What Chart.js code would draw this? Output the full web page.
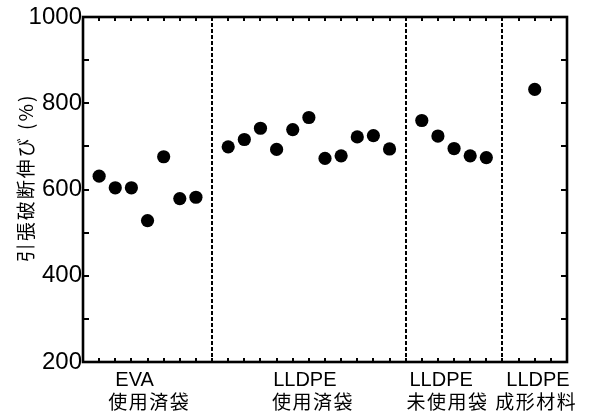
<!DOCTYPE html>
<html>
<head>
<meta charset="utf-8">
<script src="https://cdn.jsdelivr.net/npm/chart.js@4"></script>
<style>
html,body{margin:0;padding:0;background:#fff;}
#wrap{width:590px;height:413px;}
</style>
</head>
<body>
<div id="wrap"><canvas id="c" width="590" height="413"></canvas></div>
<script>
// ---- data ----
const groupNames = ['EVA', 'LLDPE', 'LLDPE', 'LLDPE'];
const groupSubNames = ['使用済袋', '使用済袋', '未使用袋', '成形材料'];
const evaUsed = [631, 604, 604, 528, 676, 579, 582];
const lldpeUsed = [699, 716, 742, 693, 739, 767, 672, 678, 722, 725, 694];
const lldpeUnused = [760, 724, 695, 678, 674];
const lldpeMaterial = [832];
const groupStart = [1, 9, 21, 28];
const separators = [8, 20, 26];
const yTicks = [200, 400, 600, 800, 1000];
const yTitle = '引張破断伸び (%)';

// ---- layout constants ----
const line1X = [3.2, 13.75, 22.2, 28.2];
const line2X = [4.1, 14.25, 22.6, 28.1];

const series = [evaUsed, lldpeUsed, lldpeUnused, lldpeMaterial];
const datasets = series.map((vals, g) => ({
  label: groupNames[g] + ' ' + groupSubNames[g],
  data: vals.map((v, i) => ({x: groupStart[g] + i, y: v})),
  backgroundColor: '#000',
  borderColor: '#000',
  borderWidth: 0,
  pointRadius: 6.6,
  pointHoverRadius: 6.6
}));

const decor = {
  id: 'decor',
  beforeDatasetsDraw(chart) {
    const ctx = chart.ctx, a = chart.chartArea;
    const xs = chart.scales.x, ys = chart.scales.y;
    ctx.save();
    // separators
    ctx.strokeStyle = '#000';
    ctx.lineWidth = 2;
    ctx.setLineDash([4, 2]);
    separators.forEach(s => {
      const px = Math.round(xs.getPixelForValue(s));
      ctx.beginPath();
      ctx.moveTo(px, a.top);
      ctx.lineTo(px, a.bottom);
      ctx.stroke();
    });
    ctx.setLineDash([]);
    // ticks top/bottom
    ctx.lineWidth = 2;
    for (let i = 1; i < 30; i++) {
      const px = Math.round(xs.getPixelForValue(i));
      ctx.beginPath();
      ctx.moveTo(px, a.bottom);
      ctx.lineTo(px, a.bottom - 4);
      ctx.moveTo(px, a.top);
      ctx.lineTo(px, a.top + 4);
      ctx.stroke();
    }
    // ticks left/right
    ctx.lineWidth = 2;
    for (let v = 300; v < 1000; v += 100) {
      const py = Math.round(ys.getPixelForValue(v));
      ctx.beginPath();
      ctx.moveTo(a.left, py);
      ctx.lineTo(a.left + 6, py);
      ctx.moveTo(a.right, py);
      ctx.lineTo(a.right - 6, py);
      ctx.stroke();
    }
    // frame
    ctx.lineWidth = 2.6;
    ctx.strokeRect(a.left, a.top, a.right - a.left, a.bottom - a.top);
    ctx.restore();
  },
  afterDraw(chart) {
    const ctx = chart.ctx;
    const xs = chart.scales.x;
    ctx.save();
    ctx.fillStyle = '#000';
    ctx.textAlign = 'center';
    ctx.textBaseline = 'middle';
    groupNames.forEach((n, g) => {
      ctx.font = '20px "Liberation Sans", Arial, sans-serif';
      ctx.letterSpacing = '0px';
      ctx.fillText(n, xs.getPixelForValue(line1X[g]), 380);
      ctx.font = '19px "Noto Sans CJK JP", sans-serif';
      ctx.letterSpacing = '1.5px';
      ctx.fillText(groupSubNames[g], xs.getPixelForValue(line2X[g]), 402);
    });
    // y title
    ctx.translate(26, 178);
    ctx.rotate(-Math.PI / 2);
    ctx.font = '19px "Noto Sans CJK JP", sans-serif';
    ctx.letterSpacing = '2px';
    ctx.fillText(yTitle, 0, 0);
    ctx.restore();
  }
};

new Chart(document.getElementById('c'), {
  type: 'scatter',
  data: {datasets},
  options: {
    responsive: false,
    animation: false,
    events: [],
    layout: {padding: {top: 17, right: 23, bottom: 0, left: 0}},
    plugins: {legend: {display: false}, tooltip: {enabled: false}},
    scales: {
      x: {
        type: 'linear', min: 0, max: 30,
        grid: {display: false}, border: {display: false},
        ticks: {display: false},
        afterFit(s) { s.height = 51; }
      },
      y: {
        type: 'linear', min: 200, max: 1000,
        grid: {display: false, drawTicks: false}, border: {display: false},
        afterBuildTicks(s) { s.ticks = yTicks.map(v => ({value: v})); },
        ticks: {
          padding: 1,
          color: '#000',
          callback: v => String(v),
          font: {family: '"Liberation Sans", Arial, sans-serif', size: 24}
        },
        afterFit(s) { s.width = 83; }
      }
    }
  },
  plugins: [decor]
});
</script>
</body>
</html>
